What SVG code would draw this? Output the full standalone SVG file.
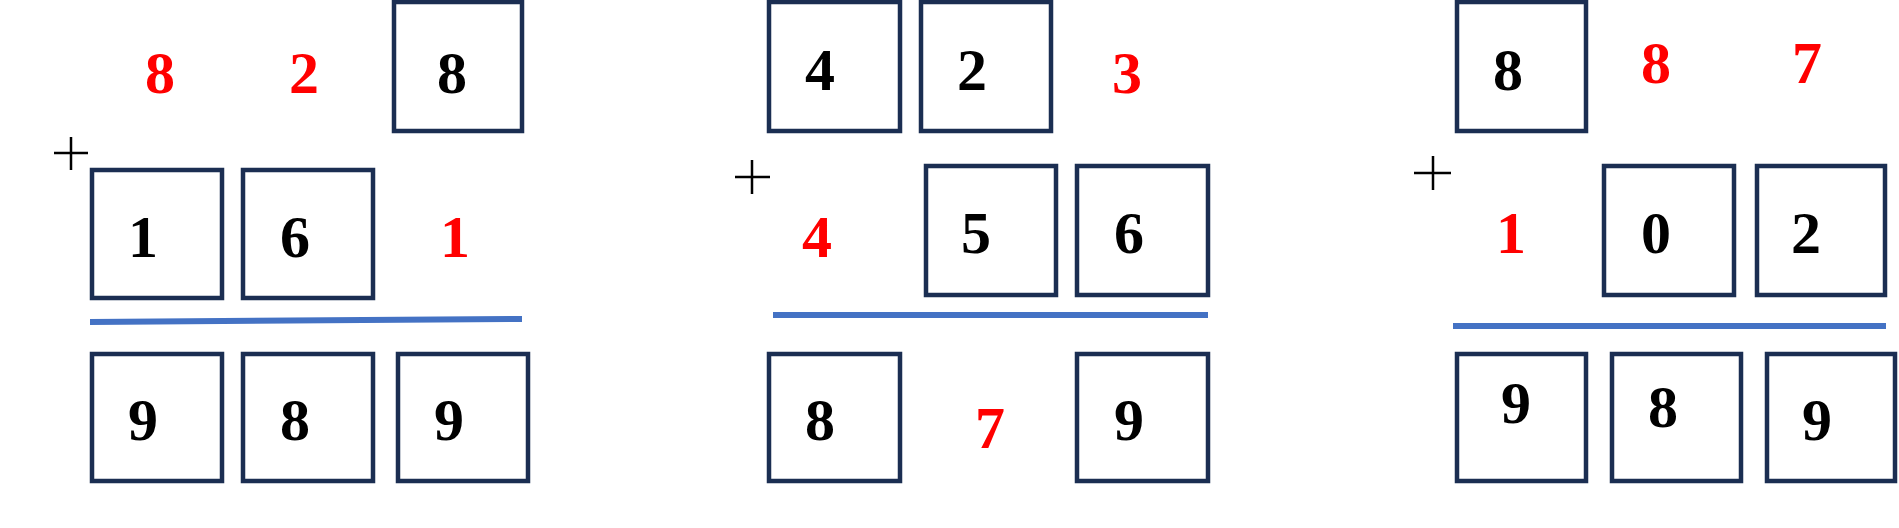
<svg xmlns="http://www.w3.org/2000/svg" width="1899" height="528" viewBox="0 0 1899 528">
<style>
.b{fill:none;stroke:#1b2e52;stroke-width:4.5}
.t{font-family:"Liberation Serif","Times New Roman",serif;font-weight:bold;font-size:60px;text-anchor:middle;fill:#000}
.r{fill:#ff0000}
.p{stroke:#000;stroke-width:2.5}
.l{stroke:#4472c4;stroke-width:6}
</style>
<rect width="1899" height="528" fill="#fff"/>
<g id="lines">
<line class="l" x1="90" y1="322" x2="522" y2="319"/>
<line class="l" x1="773" y1="315" x2="1208" y2="315"/>
<line class="l" x1="1453" y1="326" x2="1886" y2="326"/>
</g>
<g id="plus">
<path class="p" d="M54 153H88M71 137V170"/>
<path class="p" d="M735 177H770M752 160V194"/>
<path class="p" d="M1414 173H1451M1433 156V190"/>
</g>
<g id="panel1">
<text class="t r" x="160" y="93">8</text>
<text class="t r" x="304" y="93">2</text>
<rect class="b" x="394" y="2" width="128" height="129"/><text class="t" x="452" y="93">8</text>
<rect class="b" x="92" y="170" width="130" height="128"/><text class="t" x="143" y="257">1</text>
<rect class="b" x="243" y="170" width="130" height="128"/><text class="t" x="295" y="257">6</text>
<text class="t r" x="455" y="257">1</text>
<rect class="b" x="92" y="354" width="130" height="127"/><text class="t" x="143" y="440">9</text>
<rect class="b" x="243" y="354" width="130" height="127"/><text class="t" x="295" y="440">8</text>
<rect class="b" x="398" y="354" width="130" height="127"/><text class="t" x="449" y="440">9</text>
</g>
<g id="panel2">
<rect class="b" x="769" y="2" width="131" height="129"/><text class="t" x="820" y="90">4</text>
<rect class="b" x="921" y="2" width="130" height="129"/><text class="t" x="972" y="90">2</text>
<text class="t r" x="1127" y="93">3</text>
<text class="t r" x="817" y="257">4</text>
<rect class="b" x="926" y="166" width="130" height="129"/><text class="t" x="976" y="253">5</text>
<rect class="b" x="1077" y="166" width="131" height="129"/><text class="t" x="1129" y="253">6</text>
<rect class="b" x="769" y="354" width="131" height="127"/><text class="t" x="820" y="440">8</text>
<text class="t r" x="990" y="448">7</text>
<rect class="b" x="1077" y="354" width="131" height="127"/><text class="t" x="1129" y="440">9</text>
</g>
<g id="panel3">
<rect class="b" x="1457" y="2" width="129" height="129"/><text class="t" x="1508" y="90">8</text>
<text class="t r" x="1656" y="83">8</text>
<text class="t r" x="1807" y="83">7</text>
<text class="t r" x="1511" y="253">1</text>
<rect class="b" x="1604" y="166" width="130" height="129"/><text class="t" x="1656" y="253">0</text>
<rect class="b" x="1757" y="166" width="128" height="129"/><text class="t" x="1806" y="253">2</text>
<rect class="b" x="1457" y="354" width="129" height="127"/><text class="t" x="1516" y="423">9</text>
<rect class="b" x="1612" y="354" width="129" height="127"/><text class="t" x="1663" y="427">8</text>
<rect class="b" x="1767" y="354" width="128" height="127"/><text class="t" x="1817" y="440">9</text>
</g>
</svg>
